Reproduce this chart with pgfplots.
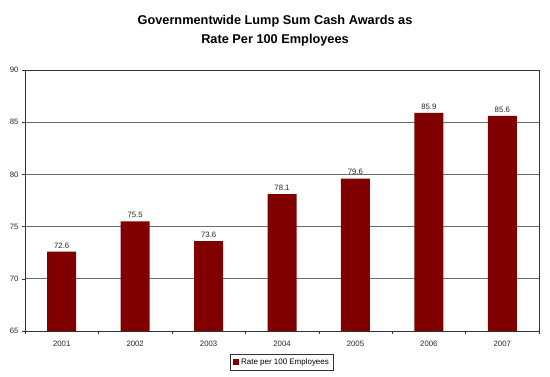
\documentclass[border=0pt]{standalone}
\usepackage{pgfplots}
\pgfplotsset{compat=1.18}
\usepackage{fontspec}
\setmainfont{Liberation Sans}
\definecolor{barred}{RGB}{128,0,0}
\definecolor{gridgray}{RGB}{100,110,110}
\begin{document}
\begin{tikzpicture}[x=1bp,y=1bp]
\path[use as bounding box] (0,0) rectangle (550,376);
\node[font=\bfseries\fontsize{12.8}{19}\selectfont, align=center] at (275,345.5) {Governmentwide Lump Sum Cash Awards as\\Rate Per 100 Employees};
\begin{axis}[
  at={(25bp,45bp)}, anchor=south west,
  scale only axis, width=514bp, height=261bp,
  xmin=-0.5, xmax=6.5, ymin=65, ymax=90,
  ytick={65,70,...,90},
  xtick={0,...,6},
  xticklabels={2001,2002,2003,2004,2005,2006,2007},
  minor xtick={-0.5,0.5,...,6.5},
  major x tick style={draw=none},
  tick align=outside,
  tick pos=left,
  major tick length=3bp, minor tick length=3bp,
  ymajorgrids,
  major grid style={gridgray, line width=0.8pt},
  axis line style={draw=gray!70},
  x axis line style={draw=black!80},
  y axis line style={draw=black!80},
  every tick/.style={black!80},
  ticklabel style={font=\fontsize{7.8}{9}\selectfont, text=black!85},
  xticklabel style={yshift=-4bp},
  /pgf/number format/assume math mode=true,
  ybar, bar width=29bp,
  nodes near coords,
  every node near coord/.append style={font=\fontsize{7.8}{9}\selectfont, text=black!85, /pgf/number format/fixed, /pgf/number format/precision=1, /pgf/number format/fixed zerofill, /pgf/number format/assume math mode=true},
  legend style={at={(0.5,-0.12)}, anchor=center, draw=black!80, font=\fontsize{8}{10}\selectfont, inner sep=2.5pt, row sep=0pt},
  legend image code/.code={\fill[barred] (0bp,-3bp) rectangle (6bp,3bp);},
]
\addplot[fill=barred, draw=none] coordinates {(0,72.6) (1,75.5) (2,73.6) (3,78.1) (4,79.6) (5,85.9) (6,85.6)};
\addlegendentry{Rate per 100 Employees}
\end{axis}
\end{tikzpicture}
\end{document}
